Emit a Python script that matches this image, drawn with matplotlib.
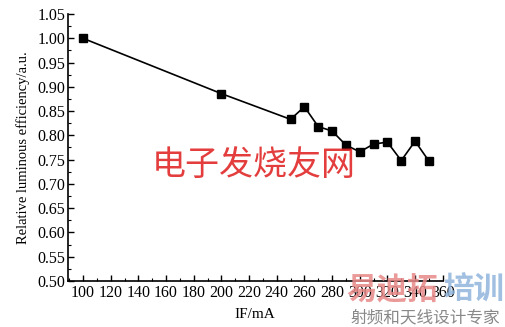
import matplotlib
matplotlib.use("Agg")
import matplotlib.pyplot as plt
from matplotlib.ticker import MultipleLocator

current = [100, 200, 250, 260, 270, 280, 290, 300, 310, 320, 330, 340, 350]
efficiency = [1.000, 0.886, 0.833, 0.859, 0.818, 0.809, 0.780, 0.766, 0.782, 0.786, 0.748, 0.788, 0.747]
xticks = list(range(100, 361, 20))
yticks = [0.50, 0.55, 0.60, 0.65, 0.70, 0.75, 0.80, 0.85, 0.90, 0.95, 1.00, 1.05]

plt.rcParams['font.family'] = ['Liberation Serif', 'DejaVu Serif']

fig = plt.figure(figsize=(5.06, 3.27), dpi=100)
ax = fig.add_axes([0.134, 0.141, 0.741, 0.816])
ax.plot(current, efficiency, color='black', lw=1.2, marker='s', ms=5.5,
        markerfacecolor='black', markeredgecolor='black')

ax.set_xlim(89, 360)
ax.set_ylim(0.50, 1.05)
ax.set_xticks(xticks)
ax.set_xticklabels([str(t) for t in xticks])
ax.set_yticks(yticks)
ax.set_yticklabels([f"{t:.2f}" for t in yticks])
ax.xaxis.set_minor_locator(MultipleLocator(10))
ax.yaxis.set_minor_locator(MultipleLocator(0.025))
ax.tick_params(which='both', direction='in', labelsize=11.5, pad=3)
ax.tick_params(axis='y', pad=2)
ax.tick_params(which='major', length=4, width=1)
ax.tick_params(which='minor', length=2.5, width=0.8)
for s in ['top', 'right']:
    ax.spines[s].set_visible(False)
for s in ['left', 'bottom']:
    ax.spines[s].set_linewidth(1.2)

ax.set_xlabel('IF/mA', fontsize=11, labelpad=5)
ax.set_ylabel('Relative luminous efficiency/a.u.', fontsize=10.5, labelpad=5)

cjk = ['Noto Sans CJK SC', 'DejaVu Sans']
fig.text(254 / 506, 1 - 165 / 327, '电子发烧友网', color='#e02828', fontsize=24.5,
         family=cjk, ha='center', va='center', alpha=0.9)
fig.text(392 / 506, 1 - 290 / 327, '易迪拓', color='#e88888', fontsize=22,
         family=cjk, ha='center', va='center', fontweight='bold', alpha=0.85)
fig.text(474 / 506, 1 - 290 / 327, '培训', color='#8fb4dc', fontsize=22,
         family=cjk, ha='center', va='center', fontweight='bold', alpha=0.85)
fig.text(425 / 506, 1 - 318 / 327, '射频和天线设计专家', color='#888888', fontsize=12,
         family=cjk, ha='center', va='center')

fig.savefig('out.png', dpi=100)
